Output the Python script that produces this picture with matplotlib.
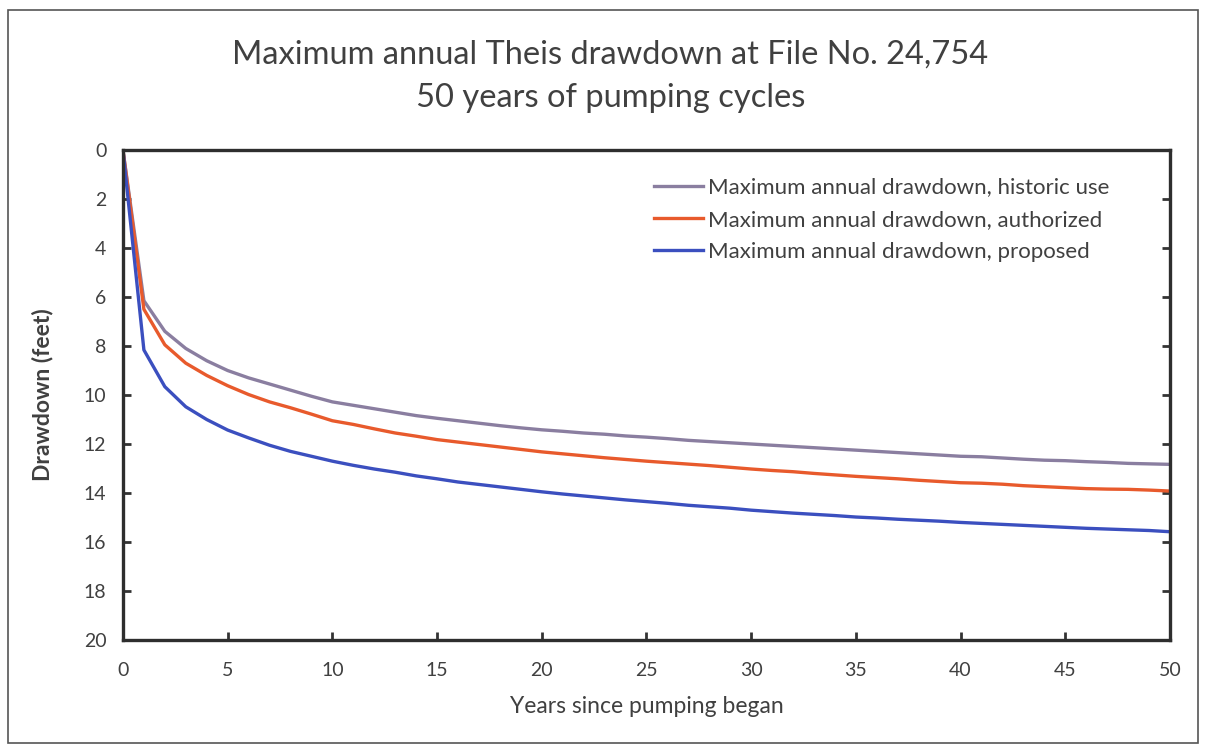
import matplotlib
matplotlib.use("Agg")
import matplotlib.pyplot as plt
from matplotlib.patches import Rectangle

years = list(range(0, 51))
historic = [0, 6.15, 7.4, 8.1, 8.6, 9.0, 9.3, 9.55, 9.8, 10.05, 10.28,
            10.42, 10.56, 10.7, 10.84, 10.95, 11.05, 11.15, 11.25, 11.34, 11.42,
            11.48, 11.55, 11.6, 11.67, 11.72, 11.78, 11.85, 11.9, 11.95, 12.0,
            12.05, 12.1, 12.15, 12.2, 12.25, 12.3, 12.35, 12.4, 12.45, 12.5,
            12.52, 12.57, 12.62, 12.66, 12.68, 12.72, 12.75, 12.79, 12.81, 12.83]
authorized = [0, 6.5, 7.95, 8.7, 9.2, 9.62, 9.98, 10.28, 10.52, 10.78, 11.05,
              11.2, 11.38, 11.55, 11.68, 11.82, 11.92, 12.02, 12.12, 12.22, 12.32,
              12.4, 12.48, 12.56, 12.63, 12.7, 12.76, 12.82, 12.88, 12.95, 13.02,
              13.08, 13.13, 13.2, 13.26, 13.32, 13.37, 13.42, 13.48, 13.53, 13.58,
              13.6, 13.64, 13.7, 13.74, 13.78, 13.82, 13.84, 13.85, 13.88, 13.92]
proposed = [0, 8.16, 9.66, 10.48, 11.0, 11.43, 11.75, 12.05, 12.3, 12.5, 12.7,
            12.87, 13.02, 13.15, 13.3, 13.42, 13.55, 13.65, 13.75, 13.85, 13.95,
            14.04, 14.12, 14.2, 14.28, 14.35, 14.42, 14.5, 14.56, 14.62, 14.7,
            14.76, 14.82, 14.87, 14.92, 14.98, 15.02, 15.07, 15.11, 15.15, 15.2,
            15.24, 15.28, 15.32, 15.36, 15.4, 15.44, 15.47, 15.5, 15.53, 15.58]

labels = ["Maximum annual drawdown, historic use",
          "Maximum annual drawdown, authorized",
          "Maximum annual drawdown, proposed"]
colors = ["#8a7ea0", "#e85a2c", "#3b4fbf"]
xticks = list(range(0, 51, 5))
yticks = list(range(0, 21, 2))

plt.rcParams['font.family'] = ['Lato', 'DejaVu Sans']
text_color = "#404040"

fig = plt.figure(figsize=(12.09, 7.49), dpi=100)
ax = fig.add_axes([0.1017, 0.1455, 0.8660, 0.6542])

for series, lab, col in zip([historic, authorized, proposed], labels, colors):
    ax.plot(years, series, color=col, lw=2.4, label=lab)

ax.set_xlim(0, 50)
ax.set_ylim(20, 0)
ax.set_xticks(xticks)
ax.set_yticks(yticks)
ax.tick_params(axis='both', direction='in', length=6, width=2, color="#333333",
               labelsize=14, labelcolor=text_color, pad=12)
ax.tick_params(axis='x', pad=16)
ax.tick_params(axis='y', right=True, labelright=False)
for sp in ax.spines.values():
    sp.set_linewidth(2.4)
    sp.set_color("#2e2e2e")

ax.set_xlabel("Years since pumping began", fontsize=16.5, color=text_color, labelpad=12)
ax.set_ylabel("Drawdown (feet)", fontsize=16.5, color=text_color, fontweight='bold', labelpad=22)

fig.text(0.505, 0.927, "Maximum annual Theis drawdown at File No. 24,754",
         ha='center', va='center', fontsize=23.5, color=text_color)
fig.text(0.505, 0.869, "50 years of pumping cycles",
         ha='center', va='center', fontsize=23.5, color=text_color)

leg = ax.legend(loc='upper left', bbox_to_anchor=(0.488, 0.985), frameon=False,
                fontsize=16, handlelength=2.2, handletextpad=0.25, labelspacing=0.55)
for t in leg.get_texts():
    t.set_color(text_color)

fig.patches.append(Rectangle((0.007, 0.008), 0.984, 0.978, transform=fig.transFigure,
                             fill=False, edgecolor="#555555", lw=1.2))

fig.savefig("out.png", dpi=100)
